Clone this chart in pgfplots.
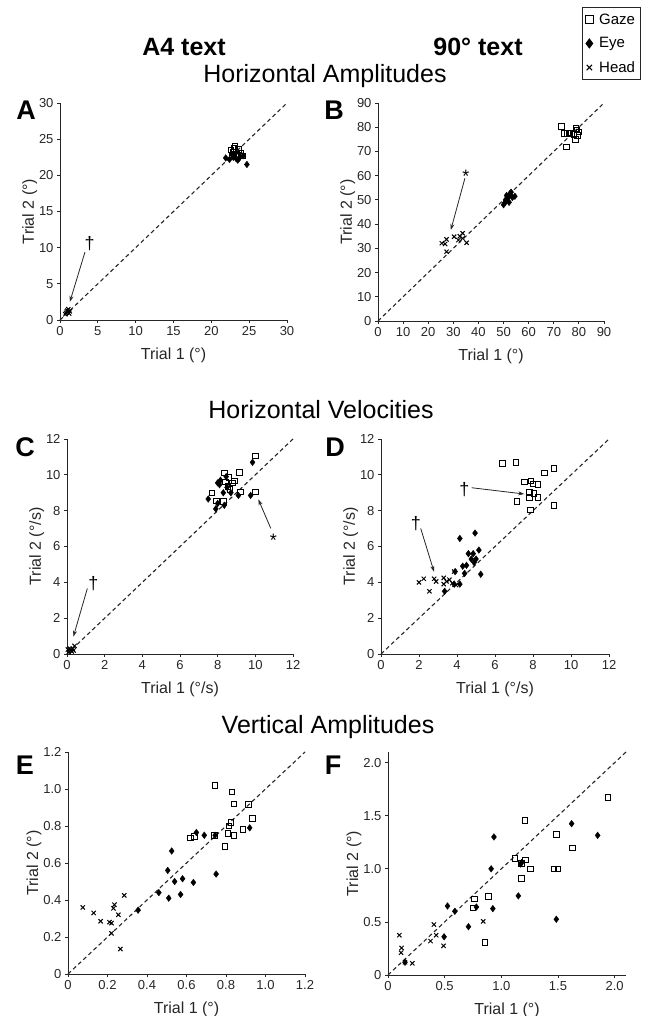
\documentclass[border=0pt]{standalone}
\usepackage{fontspec}
\setmainfont{Liberation Sans}
\usepackage{pgfplots}
\pgfplotsset{compat=1.18}
\usetikzlibrary{arrows.meta}

\pgfplotsset{
  panel/.style={
    scale only axis, anchor=south west, clip=false,
    axis x line=bottom, axis y line=left,
    axis line style={-, line width=1pt, black!85},
    tick align=outside, major tick length=3pt,
    tick style={black!85, line width=0.8pt},
    xmin=0, ymin=0,
    ticklabel style={font=\fontsize{13}{13}\selectfont, text=black!85},
    /pgf/number format/assume math mode=true,
    label style={font=\fontsize{16}{16}\selectfont, text=black!85},
    xlabel style={yshift=-5pt},
    ylabel style={yshift=-5pt},
  },
  gaze/.style={only marks, mark=square, mark size=2.8pt,
    mark options={line width=0.9pt, draw=black, fill=white}},
  eye/.style={only marks, mark=diamond*, mark size=3.3pt,
    mark options={draw=black, fill=black}},
  head/.style={only marks, mark=x, mark size=3pt,
    mark options={line width=1pt, draw=black}},
  ident/.style={no marks, black!85, line width=1.1pt, dash pattern=on 4pt off 3pt},
}
\newcommand{\ann}{\fontsize{18}{18}\selectfont}
\newcommand{\legfont}{\fontsize{15}{15}\selectfont}
\tikzset{arr/.style={-{Stealth[length=6pt,width=4pt]}, line width=0.8pt, black!85}}

\begin{document}
\begin{tikzpicture}
\path[use as bounding box] (0pt,0pt) rectangle (659pt,-1016pt);

% headers
\node[font=\bfseries\fontsize{25}{25}\selectfont] at (184pt,-47pt) {A4 text};
\node[font=\bfseries\fontsize{25}{25}\selectfont] at (478pt,-47pt) {90° text};
\node[font=\fontsize{25}{25}\selectfont] at (325pt,-76pt) {Horizontal Amplitudes};
\node[font=\fontsize{25}{25}\selectfont] at (321pt,-410pt) {Horizontal Velocities};
\node[font=\fontsize{25}{25}\selectfont] at (328pt,-727pt) {Vertical Amplitudes};
\foreach \l/\x/\y in {A/26/110, B/334/110, C/25/447, D/335/447, E/25/765, F/333/765}
  \node[font=\bfseries\fontsize{27}{27}\selectfont] at (\x pt,-\y pt) {\l};

% ---- A ----
\begin{axis}[panel, at={(60pt,-320pt)}, width=227pt, height=217pt,
  xmax=30, ymax=30, xtick={0,5,...,30}, ytick={0,5,...,30},
  xlabel={Trial 1 (°)}, ylabel={Trial 2 (°)}]
\addplot[ident] coordinates {(0,0) (30,30)};
\addplot[eye] coordinates {
  (21.9,22.4) (22.4,22.2) (22.9,22.5) (23.3,22.3) (23.7,22.4) (24.2,22.7)
  (24.7,21.5) (23.1,22.9) (23.5,22.1) (22.7,22.9)};
\addplot[gaze] coordinates {
  (22.6,23.5) (23.1,24.0) (23.6,23.6) (23.9,23.1) (23.3,22.9) (22.9,23.2)
  (23.5,22.6) (24.1,22.7) (22.8,22.7) (23.0,23.7)};
\addplot[head] coordinates {
  (0.8,1.0) (1.0,1.3) (1.2,0.9) (1.1,1.5) (0.9,1.2) (1.3,1.2) (0.7,0.8)};
\draw[arr] (axis cs:3.3,9.4) -- (axis cs:1.3,2.5);
\node[font=\ann] at (axis cs:3.9,10.6) {†};
\end{axis}

% ---- B ----
\begin{axis}[panel, at={(378pt,-321pt)}, width=226pt, height=218pt,
  xmax=90, ymax=90, xtick={0,10,...,90}, ytick={0,10,...,90},
  xlabel={Trial 1 (°)}, ylabel={Trial 2 (°)},
  legend style={at={(axis description cs:0.903,1.44)}, anchor=north west,
    draw=black!85, line width=1pt,
    inner xsep=3pt, inner ysep=4pt, row sep=8pt,
    /tikz/every odd column/.append style={column sep=4pt}},
  legend cell align=left]
\addlegendimage{only marks, mark=square, mark size=3.8pt,
  mark options={line width=1pt, draw=black, fill=white}}
\addlegendentry{\legfont Gaze}
\addlegendimage{only marks, mark=diamond*, mark size=4.4pt,
  mark options={draw=black, fill=black}}
\addlegendentry{\legfont Eye}
\addlegendimage{only marks, mark=x, mark size=3.8pt,
  mark options={line width=1.1pt, draw=black}}
\addlegendentry{\legfont Head}
\addplot[ident, forget plot] coordinates {(0,0) (90,90)};
\addplot[gaze, forget plot] coordinates {
  (73.0,80.4) (75.0,71.8) (74.0,77.5) (75.5,77.5) (77.0,77.5) (78.8,79.5)
  (80.0,78.0) (79.5,76.5) (78.6,75.0) (78.0,77.0) (79.2,78.8) (76.5,77.6)};
\addplot[eye, forget plot] coordinates {
  (50.0,48.0) (50.5,48.8) (51.0,49.5) (51.5,50.5) (52.0,51.5) (52.5,52.5)
  (53.0,53.2) (51.2,51.8) (53.5,51.0) (54.5,51.5) (50.8,50.0) (52.2,49.0)};
\addplot[head, forget plot] coordinates {
  (25.4,32.1) (27.3,33.7) (27.3,28.6) (26.7,31.8) (30.3,34.8) (32.0,33.4)
  (33.7,36.2) (33.7,34.1) (35.3,32.3) (32.6,35.0)};
\draw[arr] (axis cs:34.6,58.9) -- (axis cs:29.0,37.6);
\node[font=\ann, yshift=-4pt] at (axis cs:35.0,61.2) {*};
\end{axis}

% ---- C ----
\begin{axis}[panel, at={(67pt,-654pt)}, width=226pt, height=215pt,
  xmax=12, ymax=12, xtick={0,2,...,12}, ytick={0,2,...,12},
  xlabel={Trial 1 (°/s)}, ylabel={Trial 2 (°/s)}]
\addplot[ident] coordinates {(0,0) (12,12)};
\addplot[eye] coordinates {
  (9.85,10.7) (7.5,8.65) (9.75,8.85) (9.1,8.85) (8.15,9.7) (8.1,9.45)
  (8.3,9.0) (8.0,8.4) (7.9,8.1) (8.5,9.3) (8.7,9.0) (8.35,8.3) (8.0,9.55) (8.45,9.9)};
\addplot[gaze] coordinates {
  (10.0,11.05) (9.15,10.15) (8.35,10.1) (8.6,9.85) (8.9,9.65) (8.8,9.55)
  (8.4,9.6) (8.55,9.35) (9.2,9.05) (10.0,9.05) (7.7,9.0) (7.95,8.55)
  (8.3,8.5) (8.65,9.2)};
\addplot[head] coordinates {
  (0.1,0.1) (0.2,0.2) (0.3,0.3) (0.25,0.15) (0.15,0.3) (0.4,0.45) (0.35,0.2) (0.05,0.25)};
\draw[arr] (axis cs:1.08,3.66) -- (axis cs:0.34,0.97);
\node[font=\ann] at (axis cs:1.4,3.95) {†};
\draw[arr] (axis cs:10.82,7.01) -- (axis cs:10.16,8.63);
\node[font=\ann, yshift=-4pt] at (axis cs:10.96,6.55) {*};
\end{axis}

% ---- D ----
\begin{axis}[panel, at={(381pt,-654pt)}, width=228pt, height=215pt,
  xmax=12, ymax=12, xtick={0,2,...,12}, ytick={0,2,...,12},
  xlabel={Trial 1 (°/s)}, ylabel={Trial 2 (°/s)}]
\addplot[ident] coordinates {(0,0) (12,12)};
\addplot[gaze] coordinates {
  (6.4,10.65) (7.1,10.7) (9.1,10.35) (8.6,10.1) (7.55,9.6) (7.9,9.65)
  (8.0,9.5) (8.25,9.45) (7.8,9.05) (8.05,8.95) (8.25,8.75) (7.8,8.7)
  (7.15,8.5) (9.1,8.3) (7.85,8.05)};
\addplot[eye] coordinates {
  (4.15,6.45) (4.95,6.75) (5.15,5.8) (4.6,5.6) (4.85,5.6) (4.5,4.95)
  (4.75,5.3) (5.0,5.3) (4.3,4.9) (4.4,4.5) (5.25,4.45) (4.15,3.9)
  (3.85,3.9) (3.9,4.6) (3.35,3.5) (4.9,5.1)};
\addplot[head] coordinates {
  (2.0,4.0) (2.25,4.2) (2.55,3.5) (2.8,4.2) (2.9,4.05) (3.3,4.25)
  (3.45,4.05) (3.6,4.15) (3.75,3.95) (3.95,3.85) (3.3,3.9) (3.85,4.6)};
\draw[arr] (axis cs:2.09,7.01) -- (axis cs:2.79,4.59);
\node[font=\ann] at (axis cs:1.83,7.29) {†};
\draw[arr] (axis cs:4.77,9.28) -- (axis cs:7.54,8.93);
\node[font=\ann] at (axis cs:4.39,9.15) {†};
\end{axis}

% ---- E ----
\begin{axis}[panel, at={(68pt,-974pt)}, width=237pt, height=222pt,
  xmax=1.2, ymax=1.2, xtick={0,0.2,...,1.2}, ytick={0,0.2,...,1.2},
  xticklabels={0,0.2,0.4,0.6,0.8,1.0,1.2}, yticklabels={0,0.2,0.4,0.6,0.8,1.0,1.2},
  xlabel={Trial 1 (°)}, ylabel={Trial 2 (°)}]
\addplot[ident] coordinates {(0,0) (1.2,1.2)};
\addplot[gaze] coordinates {
  (0.745,1.02) (0.83,0.985) (0.84,0.92) (0.915,0.915) (0.935,0.84) (0.825,0.82)
  (0.815,0.80) (0.81,0.76) (0.84,0.75) (0.885,0.78) (0.74,0.75) (0.795,0.69)
  (0.62,0.735) (0.64,0.745)};
\addplot[eye] coordinates {
  (0.65,0.765) (0.69,0.75) (0.745,0.75) (0.92,0.79) (0.525,0.665) (0.505,0.56)
  (0.54,0.50) (0.58,0.515) (0.635,0.495) (0.75,0.54) (0.46,0.44) (0.51,0.41)
  (0.57,0.43) (0.355,0.345)};
\addplot[head] coordinates {
  (0.075,0.36) (0.13,0.33) (0.165,0.285) (0.21,0.28) (0.22,0.22) (0.235,0.375)
  (0.23,0.355) (0.255,0.32) (0.285,0.425) (0.265,0.135) (0.22,0.275)};
\end{axis}

% ---- F ----
\begin{axis}[panel, at={(388pt,-975pt)}, width=238pt, height=223pt,
  xmax=2.1, ymax=2.1, xtick={0,0.5,...,2.0}, ytick={0,0.5,...,2.0},
  xticklabels={0,0.5,1.0,1.5,2.0}, yticklabels={0,0.5,1.0,1.5,2.0},
  xlabel={Trial 1 (°)}, ylabel={Trial 2 (°)}]
\addplot[ident] coordinates {(0,0) (2.1,2.1)};
\addplot[gaze] coordinates {
  (1.94,1.67) (1.21,1.455) (1.485,1.325) (1.63,1.195) (1.12,1.10) (1.215,1.085)
  (1.175,1.05) (1.255,1.0) (1.465,1.0) (1.50,1.0) (1.18,0.91) (0.885,0.74)
  (0.765,0.715) (0.75,0.63) (0.855,0.305)};
\addplot[eye] coordinates {
  (1.62,1.425) (1.85,1.315) (0.935,1.30) (0.91,1.0) (1.17,1.045) (1.18,1.06)
  (1.15,0.745) (1.485,0.525) (0.925,0.625) (0.78,0.64) (0.71,0.455) (0.525,0.65)
  (0.59,0.60) (0.495,0.36) (0.15,0.12)};
\addplot[head] coordinates {
  (0.10,0.375) (0.12,0.255) (0.115,0.21) (0.15,0.12) (0.215,0.11) (0.405,0.475)
  (0.425,0.375) (0.375,0.32) (0.49,0.275) (0.84,0.505)};
\end{axis}
\end{tikzpicture}
\end{document}
